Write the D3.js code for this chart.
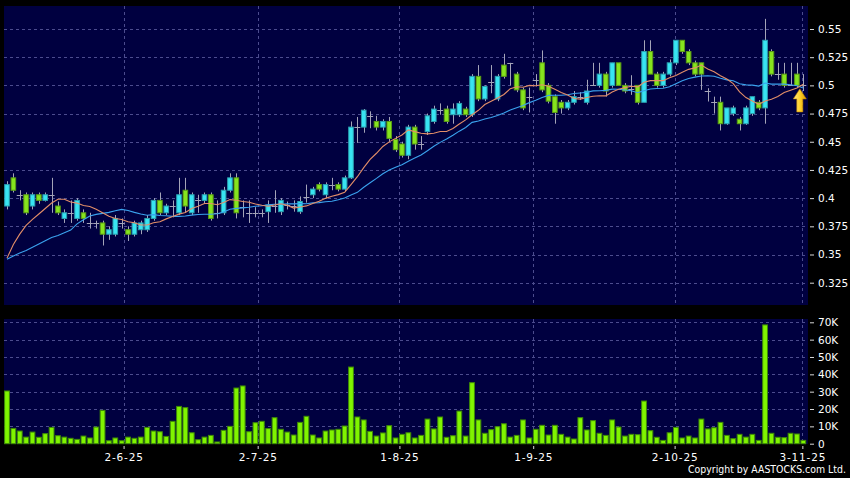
<!DOCTYPE html>
<html><head><meta charset="utf-8">
<script src="https://cdn.jsdelivr.net/npm/d3@7"></script>
<style>
html,body{margin:0;padding:0;background:#000;}
svg{display:block;}
text{font-family:"DejaVu Sans",Verdana,sans-serif;fill:#fff;}
</style></head><body>
<svg id="c" width="850" height="478"></svg>
<script>
// ---- data (index = trading day, 0 .. 125) ----
const open = [
0.393,0.418,0.403,0.403,0.393,0.403,0.398,0.403,0.393,0.382,
0.387,0.382,0.387,0.378,0.378,0.378,0.368,0.368,0.378,0.372,
0.368,0.372,0.372,0.382,0.398,0.387,0.393,0.387,0.407,0.387,
0.398,0.398,0.403,0.387,0.387,0.407,0.418,0.392,0.387,0.387,
0.387,0.388,0.393,0.388,0.394,0.393,0.388,0.401,0.403,0.412,
0.403,0.412,0.412,0.408,0.418,0.463,0.463,0.473,0.468,0.463,
0.468,0.452,0.448,0.438,0.463,0.448,0.459,0.468,0.478,0.479,
0.474,0.474,0.479,0.474,0.508,0.488,0.503,0.488,0.518,0.52,
0.51,0.496,0.49,0.505,0.52,0.50,0.49,0.485,0.48,0.485,
0.49,0.485,0.50,0.50,0.51,0.50,0.52,0.50,0.497,0.50,
0.485,0.53,0.51,0.50,0.51,0.52,0.54,0.53,0.52,0.52,
0.495,0.485,0.485,0.466,0.475,0.47,0.466,0.475,0.485,0.48,
0.53,0.51,0.51,0.50,0.51,0.50];
const high = [
0.415,0.422,0.407,0.405,0.405,0.405,0.405,0.418,0.397,0.39,
0.398,0.40,0.39,0.387,0.38,0.38,0.375,0.385,0.382,0.375,
0.38,0.38,0.385,0.40,0.405,0.395,0.398,0.418,0.418,0.405,
0.403,0.405,0.405,0.398,0.41,0.422,0.422,0.398,0.398,0.392,
0.39,0.398,0.407,0.40,0.397,0.398,0.4015,0.412,0.41,0.414,
0.414,0.418,0.414,0.42,0.468,0.472,0.479,0.477,0.473,0.47,
0.472,0.455,0.45,0.465,0.465,0.455,0.475,0.482,0.484,0.482,
0.484,0.486,0.481,0.51,0.518,0.50,0.518,0.51,0.528,0.52,
0.512,0.498,0.498,0.51,0.531,0.502,0.492,0.487,0.487,0.495,
0.494,0.505,0.52,0.52,0.512,0.52,0.52,0.502,0.509,0.50,
0.54,0.54,0.512,0.512,0.523,0.54,0.54,0.532,0.522,0.52,
0.4975,0.49,0.49,0.48,0.482,0.472,0.482,0.49,0.487,0.559,
0.532,0.52,0.52,0.52,0.52,0.51];
const low = [
0.39,0.405,0.398,0.385,0.39,0.395,0.397,0.387,0.385,0.378,
0.378,0.38,0.378,0.373,0.373,0.358,0.363,0.366,0.373,0.362,
0.366,0.368,0.37,0.38,0.385,0.385,0.383,0.385,0.387,0.385,
0.387,0.395,0.38,0.382,0.385,0.405,0.382,0.383,0.378,0.383,
0.383,0.378,0.387,0.385,0.39,0.388,0.386,0.396,0.40,0.406,
0.40,0.407,0.406,0.406,0.417,0.449,0.458,0.462,0.46,0.46,
0.45,0.441,0.436,0.4345,0.443,0.443,0.456,0.466,0.474,0.466,
0.466,0.472,0.472,0.472,0.486,0.486,0.493,0.486,0.506,0.50,
0.494,0.478,0.476,0.499,0.494,0.484,0.466,0.475,0.478,0.483,
0.487,0.483,0.50,0.498,0.49,0.498,0.50,0.493,0.4916,0.483,
0.485,0.51,0.498,0.498,0.508,0.518,0.528,0.518,0.508,0.496,
0.4857,0.475,0.46,0.465,0.473,0.46,0.465,0.473,0.478,0.466,
0.508,0.505,0.498,0.50,0.498,0.495];
const close = [
0.412,0.407,0.403,0.387,0.403,0.398,0.403,0.403,0.387,0.387,
0.387,0.398,0.382,0.378,0.378,0.368,0.372,0.382,0.378,0.368,
0.378,0.378,0.382,0.398,0.387,0.393,0.393,0.403,0.393,0.403,
0.398,0.403,0.382,0.387,0.407,0.418,0.387,0.392,0.387,0.387,
0.387,0.394,0.393,0.398,0.394,0.393,0.397,0.401,0.408,0.408,
0.412,0.412,0.408,0.418,0.463,0.463,0.478,0.473,0.463,0.468,
0.453,0.443,0.438,0.463,0.448,0.448,0.473,0.479,0.478,0.468,
0.479,0.484,0.474,0.508,0.488,0.499,0.503,0.508,0.508,0.52,
0.496,0.48,0.49,0.505,0.496,0.486,0.476,0.48,0.485,0.49,
0.49,0.495,0.50,0.51,0.495,0.52,0.50,0.495,0.497,0.485,
0.53,0.51,0.50,0.51,0.52,0.54,0.53,0.52,0.51,0.51,
0.495,0.485,0.466,0.48,0.48,0.466,0.48,0.49,0.48,0.54,
0.51,0.51,0.50,0.50,0.50,0.50];
// closes of the 19 sessions before the window (feed the moving averages)
const priorCloses = [0.35,0.35,0.345,0.345,0.34,0.345,0.345,0.35,0.34,0.34,
0.287,0.31,0.31,0.35,0.35,0.354,0.354,0.354,0.387];
// volume, thousands of shares
const volumeK = [
30.4,8.8,7.3,3.8,6.7,3.7,5.8,9.4,4.6,3.8,
3.1,2.5,4.4,3.3,9.6,19.2,1.7,3.3,1.7,3.8,
3.1,3.8,9.4,7.3,6.9,4.2,12.9,21.5,20.8,6.3,
2.3,3.8,4.8,1.0,7.7,10.0,32.1,33.3,6.9,12.1,
12.9,8.7,15.0,8.3,6.7,5.0,12.3,15.8,5.0,3.3,
7.3,7.9,8.3,10.2,44.2,15.4,13.7,7.1,4.4,6.2,
10.4,3.3,5.4,6.3,3.3,4.8,14.2,8.5,15.4,3.7,
4.6,18.8,4.4,35.2,13.7,6.0,8.1,9.8,11.5,3.8,
4.8,13.7,3.3,8.3,10.6,5.0,10.6,5.4,3.8,2.7,
15.0,7.9,13.3,6.0,4.8,13.7,9.6,4.4,5.4,5.2,
24.6,7.5,3.7,1.9,6.3,9.4,3.3,4.4,3.3,14.2,
8.5,9.2,12.3,4.8,2.9,5.4,3.8,5.4,1.9,68.5,
6.0,3.7,3.5,6.0,5.6,1.9];
const priceTicks = [0.325,0.35,0.375,0.4,0.425,0.45,0.475,0.5,0.525,0.55];
const volumeTicksK = [0,10,20,30,40,50,60,70];
const dateLabels = ["2-6-25","2-7-25","1-8-25","1-9-25","2-10-25","3-11-25"];
const dateAt = [18.3,39.35,61.6,82.6,104.8,124.85];
const maShort = 10, maLong = 20;

// ---- layout ----
const svg = d3.select("#c");
const P = {l:4, r:808, t:6, b:305};
const V = {l:4, r:808, t:319, b:444};
const x = d3.scaleLinear().domain([0, close.length-1]).range([7, 803.3]);
const yP = d3.scaleLinear().domain([0.325,0.55]).range([282.7,29]);
const yV = d3.scaleLinear().domain([0,70]).range([443.7,322.3]);

svg.append("rect").attr("width",850).attr("height",478).attr("fill","#000");
const defs = svg.append("defs");
defs.append("clipPath").attr("id","cp").append("rect")
  .attr("x",P.l).attr("y",P.t).attr("width",P.r-P.l).attr("height",P.b-P.t);
const ag = defs.append("linearGradient").attr("id","ag").attr("x1",0).attr("x2",1).attr("y1",0).attr("y2",0);
ag.append("stop").attr("offset","0%").attr("stop-color","#ffe98a");
ag.append("stop").attr("offset","50%").attr("stop-color","#ffd22a");
ag.append("stop").attr("offset","100%").attr("stop-color","#d99a00");

const panelFill = "#000040";
svg.append("rect").attr("x",P.l).attr("y",P.t).attr("width",P.r-P.l).attr("height",P.b-P.t).attr("fill",panelFill);
svg.append("rect").attr("x",V.l).attr("y",V.t).attr("width",V.r-V.l).attr("height",V.b-V.t).attr("fill",panelFill);

const gridC = "#4c4c8e";
const grid = svg.append("g").attr("stroke",gridC).attr("stroke-width",1).attr("stroke-dasharray","3,3").attr("fill","none");
priceTicks.forEach(t=>{
  const yy = Math.round(yP(t))+0.5;
  grid.append("line").attr("x1",P.l).attr("x2",P.r).attr("y1",yy).attr("y2",yy);
});
volumeTicksK.filter(t=>t>0).forEach(t=>{
  const yy = Math.round(yV(t))+0.5;
  grid.append("line").attr("x1",V.l).attr("x2",V.r).attr("y1",yy).attr("y2",yy);
});
dateAt.forEach(d=>{
  const xx = Math.round(x(d))+0.5;
  grid.append("line").attr("x1",xx).attr("x2",xx).attr("y1",P.t).attr("y2",P.b);
  grid.append("line").attr("x1",xx).attr("x2",xx).attr("y1",V.t).attr("y2",V.b);
});

// ---- candles ----
const data = close.map((c,i)=>({i, o:open[i], h:high[i], l:low[i], c, v:volumeK[i]}));
const cg = svg.append("g").attr("clip-path","url(#cp)");
const bw = 4.6;
cg.selectAll("line.w").data(data).join("line").attr("class","w")
  .attr("x1",d=>Math.round(x(d.i))+0.5).attr("x2",d=>Math.round(x(d.i))+0.5)
  .attr("y1",d=>yP(d.h)).attr("y2",d=>yP(d.l))
  .attr("stroke","#a4a4b8").attr("stroke-width",1);
cg.selectAll("line.dj").data(data.filter(d=>d.o===d.c)).join("line").attr("class","dj")
  .attr("x1",d=>x(d.i)-3).attr("x2",d=>x(d.i)+3)
  .attr("y1",d=>Math.round(yP(d.c))+0.5).attr("y2",d=>Math.round(yP(d.c))+0.5)
  .attr("stroke","#a4a4b8").attr("stroke-width",1);
cg.selectAll("rect.b").data(data.filter(d=>d.o!==d.c)).join("rect").attr("class","b")
  .attr("x",d=>x(d.i)-bw/2).attr("width",bw)
  .attr("y",d=>yP(Math.max(d.o,d.c))).attr("height",d=>Math.abs(yP(d.o)-yP(d.c)))
  .attr("fill",d=>d.c>d.o?"#38e4f2":"#86e41e")
  .attr("stroke",d=>d.c>d.o?"#2aa0b0":"#5a9c14").attr("stroke-width",1);

// ---- moving averages ----
const all = priorCloses.concat(close);
const ma = n => close.map((c,i)=>{
  const end = i + priorCloses.length;
  return d3.mean(all.slice(end-n+1, end+1));
});
const line = d3.line().x((d,i)=>x(i)).y(d=>yP(d));
cg.append("path").attr("d",line(ma(maLong))).attr("fill","none").attr("stroke","#3aa2ee").attr("stroke-width",1.1);
cg.append("path").attr("d",line(ma(maShort))).attr("fill","none").attr("stroke","#e38e68").attr("stroke-width",1.1);

// ---- arrow at last close ----
const ax = x(close.length-1)-3.5, ay = yP(close[close.length-1])+3.5;
svg.append("path")
  .attr("d",`M${ax},${ay} L${ax+6.5},${ay+10} L${ax+3},${ay+10} L${ax+3},${ay+23} L${ax-3},${ay+23} L${ax-3},${ay+10} L${ax-6.5},${ay+10} Z`)
  .attr("fill","url(#ag)").attr("stroke","#c88a00").attr("stroke-width",0.6);

// ---- volume ----
svg.append("g").selectAll("rect").data(data).join("rect")
  .attr("x",d=>x(d.i)-2.4).attr("width",4.8)
  .attr("y",d=>yV(d.v)).attr("height",d=>yV(0)-yV(d.v))
  .attr("fill","#80f400").attr("stroke","#3e8a06").attr("stroke-width",1);

// ---- axes ----
const fmtP = d3.format("~g");
const yAxisP = d3.axisRight(yP).tickValues(priceTicks).tickSize(4).tickPadding(4).tickFormat(fmtP);
const gP = svg.append("g").attr("transform","translate(810,0)").call(yAxisP);
const yAxisV = d3.axisRight(yV).tickValues(volumeTicksK).tickSize(4).tickPadding(4).tickFormat(d=>d===0?"0":d+"K");
const gV = svg.append("g").attr("transform","translate(810,0)").call(yAxisV);
const xAxis = d3.axisBottom(x).tickValues(dateAt).tickSize(3).tickPadding(5).tickFormat((d,i)=>dateLabels[i]);
const gX = svg.append("g").attr("transform","translate(0,446)").call(xAxis);
[gP,gV,gX].forEach(g=>{
  g.select(".domain").remove();
  g.selectAll(".tick line").attr("stroke","#d8d8d8");
  g.selectAll("text").attr("fill","#fff").style("font-family",'"DejaVu Sans",Verdana,sans-serif').style("font-size","10.5px");
});
gX.selectAll("text").style("letter-spacing","0.8px");

// copyright: condensed horizontally so it fits the right corner
const cr = svg.append("text").attr("x",0).attr("y",0).attr("text-anchor","start")
  .style("font-size","11px").text("Copyright by AASTOCKS.com Ltd.");
const natW = cr.node().getComputedTextLength();
const targetW = 158, sx = targetW / natW;
cr.attr("transform",`translate(${846 - targetW},472.5) scale(${sx},1)`);
</script>
</body></html>
